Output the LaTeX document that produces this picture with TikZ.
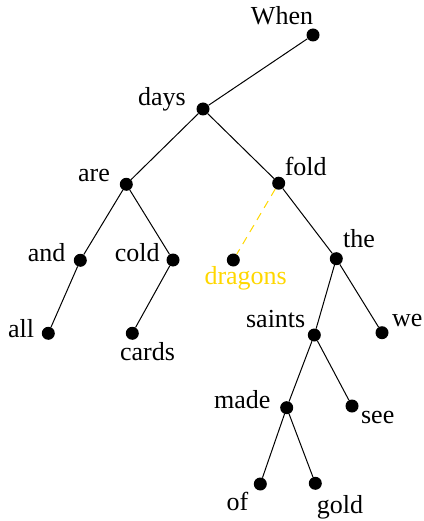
\documentclass[tikz,border=0pt]{standalone}
\usepackage{fontspec}
\setmainfont{Liberation Serif}
\definecolor{gold}{RGB}{255,215,0}
\begin{document}
\begin{tikzpicture}[x=1pt,y=-1pt,
  dot/.style={circle,fill=black,inner sep=0pt,minimum size=13pt},
  lbl/.style={anchor=base,inner sep=0pt,font=\fontsize{26}{30}\selectfont},
  edge/.style={draw=black,line width=1pt},
  weak/.style={draw=gold,line width=1pt,dash pattern=on 8pt off 6pt}]
\useasboundingbox (0,0) rectangle (423,521);
% dots
\node[dot] (when) at (313,35) {};
\node[dot] (days) at (203,109) {};
\node[dot] (are) at (126.3,184.3) {};
\node[dot] (fold) at (278.7,183.2) {};
\node[dot] (and) at (80.3,260.3) {};
\node[dot] (cold) at (173,260) {};
\node[dot] (dragons) at (233.3,260) {};
\node[dot] (the) at (336.3,258.7) {};
\node[dot] (all) at (48.3,333.3) {};
\node[dot] (cards) at (132.3,333.3) {};
\node[dot] (saints) at (314.3,335) {};
\node[dot] (we) at (382,332.7) {};
\node[dot] (made) at (286.7,407.7) {};
\node[dot] (see) at (352,406) {};
\node[dot] (of) at (260.3,484) {};
\node[dot] (gold) at (315.3,483.3) {};
% labels
\node[lbl] (lwhen) at (282,24.5) {When};
\node[lbl] (ldays) at (162,106) {days};
\node[lbl] (lfold) at (305.7,176) {fold};
\node[lbl] (lare) at (94,181.5) {are};
\node[lbl] (land) at (46.7,261) {and};
\node[lbl] (lcold) at (137.3,261) {cold};
\node[lbl,text=gold] (ldragons) at (245.7,284.5) {dragons};
\node[lbl] (lthe) at (359,247.5) {the};
\node[lbl] (lall) at (21,337) {all};
\node[lbl] (lcards) at (147.5,360) {cards};
\node[lbl] (lsaints) at (275.7,327) {saints};
\node[lbl] (lwe) at (407.3,326) {we};
\node[lbl] (lmade) at (242.3,408.5) {made};
\node[lbl] (lsee) at (377.7,423.5) {see};
\node[lbl] (lof) at (237.5,510.7) {of};
\node[lbl] (lgold) at (340,513) {gold};
% edges
\draw[edge] (when) -- (days);
\draw[edge] (days) -- (are);
\draw[edge] (days) -- (fold);
\draw[edge] (are) -- (and);
\draw[edge] (are) -- (cold);
\draw[edge] (and) -- (all);
\draw[edge] (cold) -- (cards);
\draw[weak] (fold) -- (dragons);
\draw[edge] (fold) -- (the);
\draw[edge] (the) -- (saints);
\draw[edge] (the) -- (we);
\draw[edge] (saints) -- (made);
\draw[edge] (saints) -- (see);
\draw[edge] (made) -- (of);
\draw[edge] (made) -- (gold);
\end{tikzpicture}
\end{document}
